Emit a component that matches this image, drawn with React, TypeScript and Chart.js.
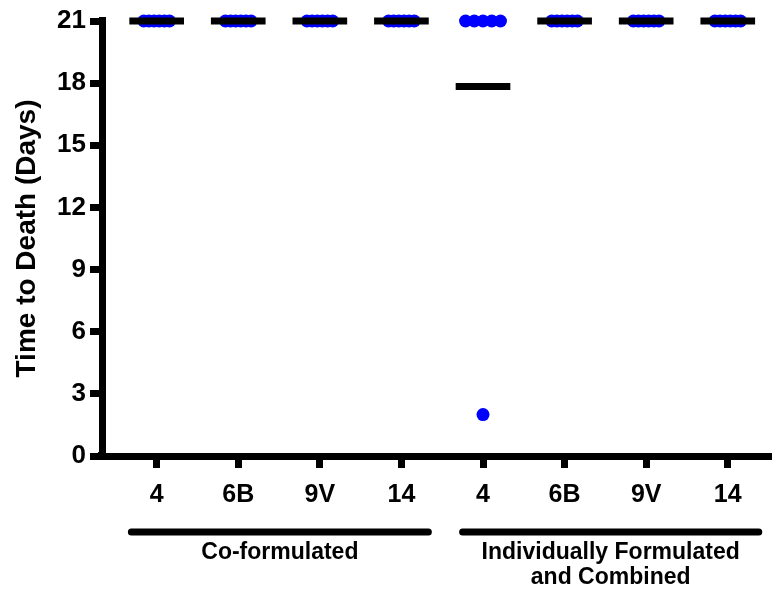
import React, { useEffect, useRef } from "react";
import { Chart, registerables } from "chart.js";

Chart.register(...registerables);

// ---------- data ----------
const CATEGORIES = ["4", "6B", "9V", "14", "4", "6B", "9V", "14"];
const Y_TICKS = [0, 3, 6, 9, 12, 15, 18, 21];
const Y_TITLE = "Time to Death (Days)";

const CO_4 = [21, 21, 21, 21, 21, 21];
const CO_6B = [21, 21, 21, 21, 21, 21];
const CO_9V = [21, 21, 21, 21, 21, 21];
const CO_14 = [21, 21, 21, 21, 21, 21];
const IND_4 = [21, 21, 21, 21, 21, 2];
const IND_6B = [21, 21, 21, 21, 21, 21];
const IND_9V = [21, 21, 21, 21, 21, 21];
const IND_14 = [21, 21, 21, 21, 21, 21];
const GROUP_VALUES = [CO_4, CO_6B, CO_9V, CO_14, IND_4, IND_6B, IND_9V, IND_14];

const BRACKET_LABELS = [["Co-formulated"], ["Individually Formulated", "and Combined"]];
const BRACKET_MEMBERS = [
  [0, 1, 2, 3],
  [4, 5, 6, 7],
];

// ---------- layout / style ----------
const FONT = "'Liberation Sans', Arial, Helvetica, sans-serif";
const BLUE = "#0000ff";
const AXIS_W = 7;
const X_MIN = 0.33;
const X_MAX = 8.536;
const SWARM_STEP = [0.063, 0.063, 0.063, 0.063, 0.107, 0.063, 0.063, 0.063];
const MEAN_HALF = 0.335;
const BRACKET_PAD_LEFT = [0.31, 0.25];
const BRACKET_PAD_RIGHT = [0.33, 0.38];

function swarm(values: number[], step: number): number[] {
  const counts: Record<string, number> = {};
  values.forEach((v) => (counts[v] = (counts[v] || 0) + 1));
  const seen: Record<string, number> = {};
  return values.map((v) => {
    const k = seen[v] || 0;
    seen[v] = k + 1;
    return (k - (counts[v] - 1) / 2) * step;
  });
}

const mean = (a: number[]) => a.reduce((s, v) => s + v, 0) / a.length;

const bracketPlugin = {
  id: "brackets",
  afterDraw(chart: any) {
    const { ctx, chartArea } = chart;
    const xs = chart.scales.x;
    ctx.save();
    // fill axis corner
    ctx.fillStyle = "#000";
    ctx.fillRect(chartArea.left - 4, chartArea.bottom - 4, 8, 8);
    ctx.fillRect(chartArea.left - 3, chartArea.top - 4, 7, 6);
    BRACKET_MEMBERS.forEach((members, bi) => {
      const x1 = xs.getPixelForValue(members[0] + 1 - BRACKET_PAD_LEFT[bi]);
      const x2 = xs.getPixelForValue(members[members.length - 1] + 1 + BRACKET_PAD_RIGHT[bi]);
      ctx.strokeStyle = "#000";
      ctx.lineWidth = AXIS_W;
      ctx.lineCap = "round";
      ctx.beginPath();
      ctx.moveTo(x1, 532);
      ctx.lineTo(x2, 532);
      ctx.stroke();
      ctx.fillStyle = "#000";
      ctx.font = `bold 23px ${FONT}`;
      ctx.textAlign = "center";
      ctx.textBaseline = "middle";
      BRACKET_LABELS[bi].forEach((line, li) => {
        ctx.fillText(line, (x1 + x2) / 2, 553 + li * 25);
      });
    });
    ctx.restore();
  },
};

export default function App() {
  const ref = useRef<HTMLCanvasElement | null>(null);

  useEffect(() => {
    document.body.style.margin = "0";
    const canvas = ref.current;
    if (!canvas) return;

    const datasets: any[] = [];
    GROUP_VALUES.forEach((vals, gi) => {
      const pos = gi + 1;
      const offs = swarm(vals, SWARM_STEP[gi]);
      datasets.push({
        type: "scatter",
        data: vals.map((v, i) => ({ x: pos + offs[i], y: v })),
        pointRadius: 6.5,
        pointBackgroundColor: BLUE,
        pointBorderWidth: 0,
        pointBorderColor: BLUE,
        showLine: false,
        clip: false,
        order: 1,
      });
      const m = mean(vals);
      datasets.push({
        type: "line",
        data: [
          { x: pos - MEAN_HALF, y: m },
          { x: pos + MEAN_HALF, y: m },
        ],
        borderColor: "#000",
        borderWidth: 7,
        borderCapStyle: "butt",
        pointRadius: 0,
        fill: false,
        clip: false,
        order: 0,
      });
    });

    const tickFont = (size: number) => ({ family: FONT, size, weight: "bold" as const });

    const chart = new Chart(canvas, {
      type: "scatter",
      data: { datasets },
      options: {
        responsive: false,
        animation: false,
        layout: { padding: { top: 21, right: 2, left: 0, bottom: 0 } },
        plugins: { legend: { display: false }, tooltip: { enabled: false } },
        scales: {
          x: {
            type: "linear",
            min: X_MIN,
            max: X_MAX,
            afterBuildTicks: (s: any) => {
              s.ticks = CATEGORIES.map((_, i) => ({ value: i + 1 }));
            },
            afterFit: (s: any) => {
              s.height = 136;
            },
            ticks: {
              callback: (v: any) => CATEGORIES[Math.round(Number(v)) - 1] ?? "",
              font: tickFont(25),
              color: "#000",
              padding: 12,
              maxRotation: 0,
              autoSkip: false,
            },
            grid: {
              drawOnChartArea: false,
              drawTicks: true,
              tickLength: 12,
              tickWidth: 7,
              tickColor: "#000",
            },
            border: { display: true, width: AXIS_W, color: "#000" },
          },
          y: {
            type: "linear",
            min: 0,
            max: 21,
            afterBuildTicks: (s: any) => {
              s.ticks = Y_TICKS.map((v) => ({ value: v }));
            },
            afterFit: (s: any) => {
              s.width = 102;
            },
            ticks: {
              font: tickFont(26),
              color: "#000",
              padding: 4,
            },
            grid: {
              drawOnChartArea: false,
              drawTicks: true,
              tickLength: 12,
              tickWidth: 7,
              tickColor: "#000",
            },
            border: { display: true, width: AXIS_W, color: "#000" },
            title: {
              display: true,
              text: Y_TITLE,
              font: tickFont(28),
              color: "#000",
              padding: { top: 10, bottom: 0 },
            },
          },
        },
      },
      plugins: [bracketPlugin],
    } as any);

    return () => chart.destroy();
  }, []);

  return (
    <div style={{ width: 778, height: 592 }}>
      <canvas ref={ref} width={778} height={592} style={{ display: "block" }} />
    </div>
  );
}
